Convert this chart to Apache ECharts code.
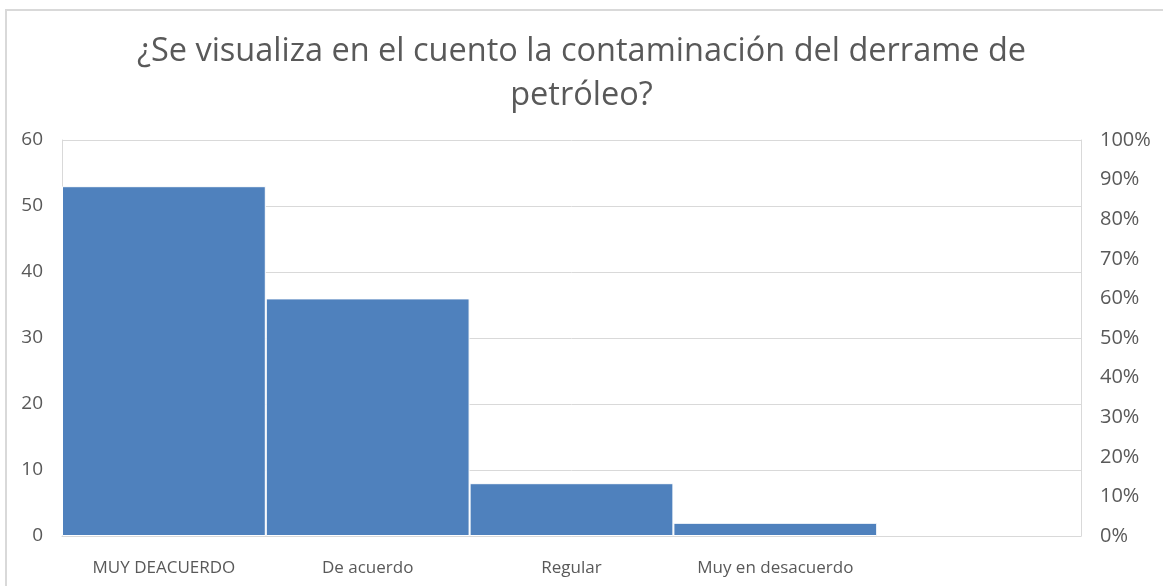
<!DOCTYPE html>
<html>
<head>
<meta charset="utf-8">
<script src="https://cdn.jsdelivr.net/npm/echarts@6/dist/echarts.min.js"></script>
<style>
  html, body { margin: 0; padding: 0; background: #fff; }
  #chart { width: 1163px; height: 586px; }
</style>
</head>
<body>
<div id="chart"></div>
<script>
const categories = ['MUY DEACUERDO', 'De acuerdo', 'Regular', 'Muy en desacuerdo', '']
const counts = [53, 36, 8, 2, null]
const leftTicks = { min: 0, max: 60, interval: 10 }
const rightTicks = { min: 0, max: 100, interval: 10 }

const textColor = '#595959'
const lineColor = '#d9d9d9'
const font = '"Open Sans", "Noto Sans", sans-serif'

const chart = echarts.init(document.getElementById('chart'), null, { renderer: 'canvas' })

chart.setOption({
  animation: false,
  title: {
    text: '¿Se visualiza en el cuento la contaminación del derrame de\npetróleo?',
    left: 'center',
    top: 25,
    textStyle: {
      color: textColor,
      fontFamily: font,
      fontWeight: 'normal',
      fontSize: 32.5,
      lineHeight: 44,
    },
  },
  graphic: [{
    type: 'rect',
    shape: { x: 6, y: 10, width: 1200, height: 620 },
    style: { fill: 'none', stroke: lineColor, lineWidth: 2 },
    silent: true,
  }],
  grid: { left: 62, right: 82, top: 140, bottom: 50 },
  xAxis: {
    type: 'category',
    data: categories,
    axisLine: { lineStyle: { color: lineColor } },
    axisTick: { show: false },
    axisLabel: {
      color: textColor,
      fontFamily: font,
      fontSize: 17,
      margin: 24,
      interval: 0,
      hideOverlap: false,
    },
  },
  yAxis: [
    {
      type: 'value',
      ...leftTicks,
      axisLine: { show: true, lineStyle: { color: lineColor } },
      axisTick: { show: false },
      splitLine: { lineStyle: { color: lineColor } },
      axisLabel: { color: textColor, fontFamily: font, fontSize: 19, margin: 19 },
    },
    {
      type: 'value',
      ...rightTicks,
      axisLine: { show: true, lineStyle: { color: lineColor } },
      axisTick: { show: false },
      splitLine: { show: false },
      axisLabel: { color: textColor, fontFamily: font, fontSize: 20, margin: 19, formatter: '{value}%' },
    },
  ],
  series: [{
    type: 'bar',
    data: counts,
    barWidth: '100%',
    itemStyle: { color: '#4F81BD', borderColor: '#fff', borderWidth: 1 },
  }],
})
</script>
</body>
</html>
